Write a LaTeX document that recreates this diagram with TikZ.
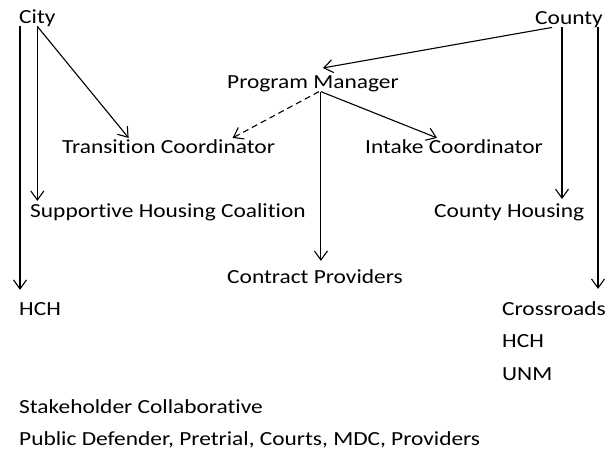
\documentclass[tikz,border=0pt]{standalone}
\usepackage{fontspec}
\setmainfont{Carlito}[FakeStretch=1.17, Ligatures=NoCommon]
\usetikzlibrary{arrows.meta}
\begin{document}
\begin{tikzpicture}[
    x=1pt, y=-1pt,
    label/.style={anchor=base west, inner sep=0pt, font=\fontsize{20}{24}\selectfont},
    arrow/.style={-{Straight Barb[length=9pt,width=13pt]}, line width=1.1pt},
    dasharrow/.style={arrow, dash pattern=on 6pt off 4pt}
]
\useasboundingbox (0,0) rectangle (609,453);

% Funding sources
\node[label] (city) at (19,23) {City};
\node[label] (county) at (535,24) {County};

% Program staff
\node[label] (pm) at (227,88) {Program Manager};
\node[label] (trans) at (62,153) {Transition Coordinator};
\node[label] (intake) at (365,153) {Intake Coordinator};

% Housing
\node[label] (shc) at (30,217) {Supportive Housing Coalition};
\node[label] (ch) at (434,217) {County Housing};
\node[label] (cp) at (227,283) {Contract Providers};

% Providers
\node[label] (hch) at (19,315) {HCH};
\node[label] (cross) at (502,315) {Crossroads};
\node[label] (hch2) at (502,347) {HCH};
\node[label] (unm) at (502,380) {UNM};

% Stakeholders
\node[label] (stake) at (19,413) {Stakeholder Collaborative};
\node[label] (public) at (19,445) {Public Defender, Pretrial, Courts, MDC, Providers};

% Connections from City
\draw[arrow, shorten >=12pt] ([xshift=1pt]city.south west) -- ([xshift=1pt]city.south west |- hch.north);
\draw[arrow, shorten >=2pt] (city.south) -- (city.south |- shc.north);
\draw[arrow] (city.south) -- ([xshift=-40pt, yshift=1pt]trans.north);

% Connections from County
\draw[arrow] ([xshift=-17pt]county.south) -- ([xshift=10pt, yshift=7pt]pm.north);
\draw[arrow, shorten >=4pt] ([xshift=-7pt]county.south) -- ([xshift=-7pt]county.south |- ch.north);
\draw[arrow, shorten >=12pt] ([xshift=-5pt]county.south east) -- ([xshift=-5pt]county.south east |- cross.north);

% Connections from Program Manager
\draw[dasharrow] ([xshift=6pt]pm.south) -- ([xshift=64pt, yshift=1pt]trans.north);
\draw[arrow] ([xshift=8pt]pm.south) -- ([xshift=-17pt, yshift=1pt]intake.north);
\draw[arrow, shorten >=8pt] ([xshift=8pt]pm.south) -- ([xshift=8pt]pm.south |- cp.north);

\end{tikzpicture}
\end{document}
